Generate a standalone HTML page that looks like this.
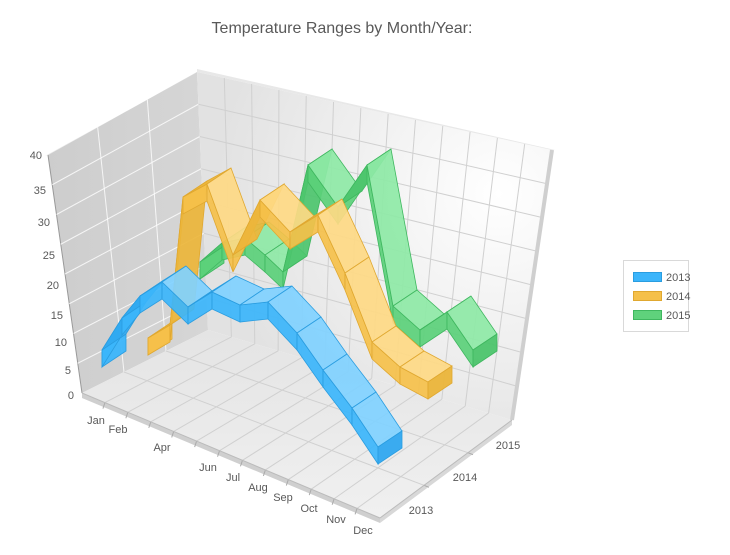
<!DOCTYPE html>
<html><head><meta charset="utf-8">
<style>
html,body{margin:0;padding:0;background:#fff;}
svg{display:block;font-family:"Liberation Sans",sans-serif;}
</style></head>
<body>
<svg id="s" width="730" height="555" viewBox="0 0 730 555" xmlns="http://www.w3.org/2000/svg">
<defs>
<linearGradient id="lw" x1="0" y1="0" x2="1" y2="0"><stop offset="0" stop-color="#cdcdcd"/><stop offset="1" stop-color="#d6d6d6"/></linearGradient>
<radialGradient id="bw" cx="0.85" cy="0.35" r="0.8"><stop offset="0" stop-color="#ffffff"/><stop offset="1" stop-color="#e2e2e2"/></radialGradient>
<linearGradient id="fl" x1="0" y1="0" x2="0" y2="1"><stop offset="0" stop-color="#e4e4e4"/><stop offset="1" stop-color="#f0f0f0"/></linearGradient>
</defs>
<text x="342" y="33" text-anchor="middle" font-size="16" fill="#595959">Temperature Ranges by Month/Year:</text>
<g id="box"></g>
<g id="ser"></g>
<g font-size="11" fill="#595959" id="lab">
<text x="42" y="159" text-anchor="end">40</text>
<text x="46" y="194" text-anchor="end">35</text>
<text x="50" y="226" text-anchor="end">30</text>
<text x="55" y="259" text-anchor="end">25</text>
<text x="59" y="289" text-anchor="end">20</text>
<text x="63" y="319" text-anchor="end">15</text>
<text x="67" y="346" text-anchor="end">10</text>
<text x="71" y="374" text-anchor="end">5</text>
<text x="74" y="399" text-anchor="end">0</text>
<g text-anchor="middle">
<text x="96" y="424">Jan</text>
<text x="118" y="433">Feb</text>
<text x="162" y="451">Apr</text>
<text x="208" y="471">Jun</text>
<text x="233" y="481">Jul</text>
<text x="258" y="491">Aug</text>
<text x="283" y="501">Sep</text>
<text x="309" y="512">Oct</text>
<text x="336" y="523">Nov</text>
<text x="363" y="534">Dec</text>
<text x="421" y="514">2013</text>
<text x="465" y="481">2014</text>
<text x="508" y="449">2015</text>
</g>
</g>
<rect x="623.5" y="260.5" width="65" height="71" fill="#fff" stroke="#d9d9d9"/>
<rect x="633.5" y="272.5" width="28" height="9" fill="#3bb5fb" stroke="#2a9de0"/>
<rect x="633.5" y="291.5" width="28" height="9" fill="#f5c04a" stroke="#e0a830"/>
<rect x="633.5" y="310.5" width="28" height="9" fill="#5fd27c" stroke="#3fb75f"/>
<g font-size="11" fill="#595959"><text x="666" y="281">2013</text><text x="666" y="300">2014</text><text x="666" y="319">2015</text></g>
</svg>
<script>
var NS="http://www.w3.org/2000/svg";
function el(p,t,a){var e=document.createElementNS(NS,t);for(var k in a)e.setAttribute(k,a[k]);p.appendChild(e);return e;}
function pts(a){return a.map(function(p){return p[0].toFixed(1)+","+p[1].toFixed(1)}).join(" ");}
function lerp(a,b,t){return [a[0]+(b[0]-a[0])*t,a[1]+(b[1]-a[1])*t];}
var box=document.getElementById("box");
var FL=[48,155],FB=[82,393],BT=[197,72],BB=[208,330],RT=[552,150],RB=[512,420],FR=[380,518];
el(box,"polygon",{points:pts([FL,BT,BB,FB]),fill:"url(#lw)"});
el(box,"polygon",{points:pts([BT,RT,RB,BB]),fill:"url(#bw)"});
el(box,"polygon",{points:pts([FB,BB,RB,FR]),fill:"url(#fl)"});
el(box,"polygon",{points:pts([FB,FR,[FR[0],FR[1]+5],[FB[0],FB[1]+5]]),fill:"#cfcfcf"});
el(box,"polygon",{points:pts([FR,RB,[RB[0],RB[1]+5],[FR[0],FR[1]+5]]),fill:"#d8d8d8"});
el(box,"polygon",{points:pts([FL,BT,[BT[0]-3,BT[1]+2],[FL[0]-3,FL[1]+1]]),fill:"#e8e8e8"});
el(box,"polygon",{points:pts([BT,RT,[RT[0]+3,RT[1]],[BT[0],BT[1]-3]]),fill:"#e8e8e8"});
el(box,"line",{x1:FL[0],y1:FL[1],x2:FB[0],y2:FB[1],stroke:"#999","stroke-width":1});
el(box,"line",{x1:RT[0],y1:RT[1],x2:RB[0],y2:RB[1],stroke:"#cfcfcf","stroke-width":4});
var gs={stroke:"#fff","stroke-width":1,opacity:0.8};
var gs2={stroke:"#d0d0d0","stroke-width":1};
for(var i=1;i<8;i++){var t=i/8;var a=lerp(FB,FL,t),b=lerp(BB,BT,t);el(box,"line",Object.assign({x1:a[0],y1:a[1],x2:b[0],y2:b[1]},gs));}
for(var i=1;i<3;i++){var t=i/3;var a=lerp(FL,BT,t),b=lerp(FB,BB,t);el(box,"line",Object.assign({x1:a[0],y1:a[1],x2:b[0],y2:b[1]},gs));}
for(var i=1;i<8;i++){var t=i/8;var a=lerp(BB,BT,t),b=lerp(RB,RT,t);el(box,"line",Object.assign({x1:a[0],y1:a[1],x2:b[0],y2:b[1]},gs2));}
for(var i=1;i<13;i++){var t=i/13;var a=lerp(BT,RT,t),b=lerp(BB,RB,t);el(box,"line",Object.assign({x1:a[0],y1:a[1],x2:b[0],y2:b[1]},gs2));}
for(var i=1;i<13;i++){var t=i/13;var a=lerp(FB,FR,t),b=lerp(BB,RB,t);el(box,"line",Object.assign({x1:a[0],y1:a[1],x2:b[0],y2:b[1]},gs2));
 el(box,"line",{x1:a[0],y1:a[1],x2:a[0]-2,y2:a[1]+6,stroke:"#aaa"});}
for(var i=1;i<3;i++){var t=i/3;var a=lerp(FB,BB,t),b=lerp(FR,RB,t);el(box,"line",Object.assign({x1:a[0],y1:a[1],x2:b[0],y2:b[1]},gs2));
 el(box,"line",{x1:b[0],y1:b[1],x2:b[0]+5,y2:b[1]+2,stroke:"#aaa"});}
el(box,"line",{x1:FB[0],y1:FB[1],x2:FR[0],y2:FR[1],stroke:"#bbb"});
el(box,"line",{x1:FR[0],y1:FR[1],x2:RB[0],y2:RB[1],stroke:"#bbb"});

var d=[24,-16],h=[0,17];
var series=[
 {c:["#8ee9a6","#5bd07a","#3fb75f","#4cc46c"],p:[[200,262],[222,243],[245,238],[265,255],[283,272],[308,165],[338,207],[367,165],[393,306],[420,330],[447,312],[473,350]]},
 {c:["#fed984","#f5c04a","#e0a830","#ebb53a"],p:[[148,338],[170,325],[183,197],[207,184],[233,255],[260,200],[290,232],[318,215],[345,273],[372,342],[400,367],[428,382]]},
 {c:["#80d1ff","#3bb5fb","#2a9de0","#30a8f0"],p:[[102,350],[122,318],[140,296],[162,282],[188,307],[212,292],[240,305],[268,302],[297,333],[323,370],[352,408],[378,447]]}
];
var sg=document.getElementById("ser");
series.forEach(function(s){
 var P=s.p,c=s.c;
 function add(a,v){return [a[0]+v[0],a[1]+v[1]];}
 el(sg,"polygon",{points:pts([P[0],add(P[0],d),add(add(P[0],d),h),add(P[0],h)]),fill:c[1],stroke:c[2],"stroke-width":0.8,"fill-opacity":0.95});
 for(var i=0;i<P.length-1;i++){
  var a=P[i],b=P[i+1];
  var rising=b[1]<a[1]-8;
  el(sg,"polygon",{points:pts([a,b,add(b,h),add(a,h)]),fill:c[1],stroke:c[2],"stroke-width":0.8,"fill-opacity":0.92});
  el(sg,"polygon",{points:pts([a,b,add(b,d),add(a,d)]),fill:rising?c[3]:c[0],stroke:c[2],"stroke-width":0.8,"fill-opacity":0.92});
 }
 var e=P[P.length-1];
 el(sg,"polygon",{points:pts([e,add(e,d),add(add(e,d),h),add(e,h)]),fill:c[3],stroke:c[2],"stroke-width":0.8,"fill-opacity":0.95});
});
</script>
</body></html>
